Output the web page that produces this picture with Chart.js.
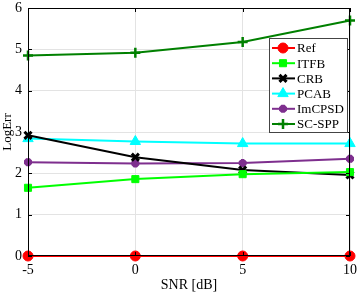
<!DOCTYPE html>
<html>
<head>
<meta charset="utf-8">
<script src="https://cdn.jsdelivr.net/npm/chart.js@4.4.1/dist/chart.umd.min.js"></script>
<style>
  html, body { margin: 0; padding: 0; background: #fff; }
  #wrap { width: 358px; height: 294px; }
</style>
</head>
<body>
<div id="wrap"><canvas id="c" width="358" height="294"></canvas></div>
<script>
const snr = [-5, 0, 5, 10];
const ref = [0, 0, 0, 0];
const itfb = [1.65, 1.86, 1.98, 2.03];
const crb = [2.92, 2.39, 2.08, 1.96];
const pcab = [2.84, 2.77, 2.72, 2.72];
const imcpsd = [2.27, 2.24, 2.25, 2.35];
const scspp = [4.85, 4.92, 5.18, 5.70];
const yTicks = [0, 1, 2, 3, 4, 5, 6];

const FONT = "'Liberation Serif', 'DejaVu Serif', serif";

function series(label, values, color, style, radius, bw) {
  return {
    label: label,
    data: snr.map((x, i) => ({ x: x, y: values[i] })),
    borderColor: color,
    backgroundColor: color,
    borderWidth: 2,
    pointStyle: style,
    pointRadius: radius,
    pointBorderWidth: bw,
    pointBorderColor: color,
    pointBackgroundColor: color,
    fill: false,
    tension: 0,
    clip: false,
  };
}

const datasets = [
  series("Ref", ref, "#ff0000", "circle", 5, 1),
  series("ITFB", itfb, "#00ff00", "rect", 5, 1),
  series("CRB", crb, "#000000", "crossRot", 5, 3),
  series("PCAB", pcab, "#00ffff", "triangle", 6, 1),
  series("ImCPSD", imcpsd, "#7e2f8e", "star", 4, 3.5),
  series("SC-SPP", scspp, "#008000", "cross", 5, 2.5),
];

// box, inward ticks and legend drawn like the original figure
const frame = {
  id: "frame",
  afterDatasetsDraw(chart) {
    const { ctx, chartArea: a, scales } = chart;
    ctx.save();
    ctx.strokeStyle = "#000";
    ctx.lineWidth = 1;
    ctx.strokeRect(a.left + 0.5, a.top + 0.5, a.right - a.left - 1, a.bottom - a.top - 1);
    ctx.beginPath();
    for (const v of yTicks) {
      const y = Math.round(scales.y.getPixelForValue(v)) + 0.5;
      ctx.moveTo(a.left, y); ctx.lineTo(a.left + 4, y);
      ctx.moveTo(a.right, y); ctx.lineTo(a.right - 4, y);
    }
    for (const v of snr) {
      const x = Math.round(scales.x.getPixelForValue(v)) + 0.5;
      ctx.moveTo(x, a.bottom); ctx.lineTo(x, a.bottom - 4);
      ctx.moveTo(x, a.top); ctx.lineTo(x, a.top + 4);
    }
    ctx.stroke();

    // legend
    const bx = 269, by = 38, bw = 78, bh = 94;
    ctx.fillStyle = "#fff";
    ctx.fillRect(bx, by, bw, bh);
    ctx.strokeStyle = "#444";
    ctx.strokeRect(bx + 0.5, by + 0.5, bw, bh);
    ctx.font = "13px " + FONT;
    ctx.textBaseline = "middle";
    chart.data.datasets.forEach((ds, i) => {
      const y = 48 + i * 15.2;
      ctx.strokeStyle = ds.borderColor;
      ctx.fillStyle = ds.borderColor;
      ctx.lineWidth = 2;
      ctx.beginPath();
      ctx.moveTo(272, y); ctx.lineTo(295, y);
      ctx.stroke();
      ctx.lineWidth = ds.pointBorderWidth;
      Chart.helpers.drawPoint(ctx, {
        pointStyle: ds.pointStyle,
        radius: ds.pointRadius,
        rotation: 0,
        borderWidth: ds.pointBorderWidth,
      }, 283, y);
      ctx.fillStyle = "#000";
      ctx.fillText(ds.label, 297, y + 1);
    });
    ctx.restore();
  },
};

new Chart(document.getElementById("c"), {
  type: "line",
  data: { datasets: datasets },
  plugins: [frame],
  options: {
    responsive: false,
    animation: false,
    layout: { padding: { top: 2, right: 4, left: 0, bottom: 0 } },
    plugins: { legend: { display: false }, tooltip: { enabled: false } },
    scales: {
      x: {
        type: "linear",
        min: -5,
        max: 10,
        afterBuildTicks: (s) => { s.ticks = snr.map((v) => ({ value: v })); },
        afterFit: (s) => { s.height = 38; s.paddingLeft = 0; s.paddingRight = 0; },
        grid: { color: "#e3e3e3", drawTicks: false },
        border: { display: false },
        ticks: { color: "#000", padding: 6, font: { family: FONT, size: 14 } },
        title: { display: true, text: "SNR [dB]", color: "#000", padding: { top: 1, bottom: 0 }, font: { family: FONT, size: 14 } },
      },
      y: {
        min: 0,
        max: 6,
        afterBuildTicks: (s) => { s.ticks = yTicks.map((v) => ({ value: v })); },
        afterFit: (s) => { s.width = 28; s.paddingTop = 0; s.paddingBottom = 0; },
        grid: { color: "#e3e3e3", drawTicks: false },
        border: { display: false },
        ticks: { color: "#000", padding: 6, font: { family: FONT, size: 14 } },
        title: { display: true, text: "LogErr", color: "#000", padding: 0, font: { family: FONT, size: 13 } },
      },
    },
  },
});
</script>
</body>
</html>
